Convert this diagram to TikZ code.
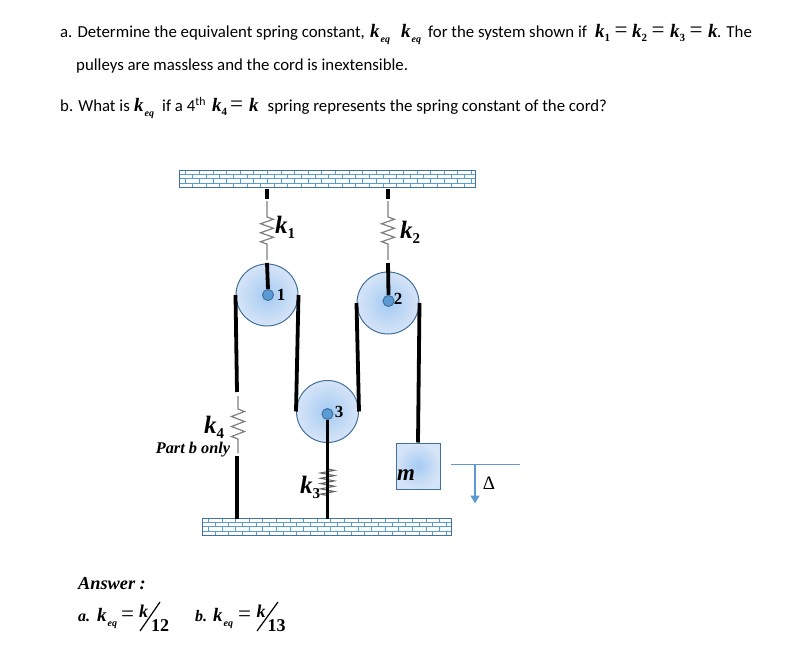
\documentclass[tikz,border=0pt]{standalone}
\usepackage{fontspec}
\setmainfont{Carlito}
\newfontfamily\serifbi[BoldItalicFont={Liberation Serif Bold Italic}]{Liberation Serif}
\usetikzlibrary{arrows.meta,decorations.pathmorphing}
\definecolor{brickblue}{RGB}{91,155,213}
\definecolor{rimblue}{RGB}{65,113,156}
\definecolor{paleblue}{RGB}{214,228,247}
\definecolor{midblue}{RGB}{165,203,243}
\newcommand{\bvar}[2]{{\serifbi\bfseries\itshape\fontsize{#1}{#1}\selectfont #2}}
\newcommand{\keq}{\bvar{19}{k}\kern1pt\raisebox{-5pt}{\bvar{10}{eq}}}
\newcommand{\kn}[1]{\bvar{19}{k}\raisebox{-4pt}{{\serifbi\bfseries\fontsize{11}{11}\selectfont #1}}}
\newcommand{\kbig}[1]{\bvar{25}{k}\raisebox{-5pt}{{\serifbi\bfseries\fontsize{15}{15}\selectfont #1}}}
\newcommand{\eqs}{{\serifbi\fontsize{23}{23}\selectfont =}}
\newcommand{\brickfill}[1]{
  \begin{scope}
    \clip (#1.north west) rectangle (#1.south east);
    \begin{scope}[shift={(#1.north west)},brickblue,line width=.8pt]
      \foreach \r in {1,2,3} \draw (0,\r*4.25)--(320,\r*4.25);
      \foreach \r in {0,2} \foreach \c in {0,...,24} {
        \draw (\c*13.6+6,\r*4.25)--(\c*13.6+6,\r*4.25+4.25);
        \draw (\c*13.6+12.8,\r*4.25+4.25)--(\c*13.6+12.8,\r*4.25+8.5);
      }
    \end{scope}
  \end{scope}
  \draw[rimblue,line width=1pt] (#1.north west) rectangle (#1.south east);
}
\tikzset{
  txt/.style={inner sep=0pt,anchor=base west,font=\fontsize{16.8}{18}\selectfont},
  lab/.style={inner sep=0pt,font=\serifbi\bfseries\fontsize{17}{17}\selectfont},
  plain/.style={inner sep=0pt},
  basew/.style={inner sep=0pt,anchor=base west},
  brickwall/.style={inner sep=0pt,minimum height=17pt},
  pulley/.style={circle,draw=rimblue,line width=1pt,inner sep=0pt,minimum size=62pt,shading=radial,inner color=midblue,outer color=paleblue},
  hub/.style={circle,draw=rimblue,line width=1pt,fill=brickblue,inner sep=0pt,minimum size=11pt},
  massbox/.style={draw=rimblue,line width=1pt,inner sep=0pt,minimum width=44pt,minimum height=46pt,shading=radial,inner color=midblue,outer color=paleblue},
  cord/.style={line width=3.8pt,black},
  coilone/.style={draw=black!50,line width=1.2pt,decorate,decoration={zigzag,amplitude=6.5pt,segment length=9pt,pre length=16pt,post length=15pt}},
  coilfour/.style={draw=black!50,line width=1.2pt,decorate,decoration={zigzag,amplitude=6.5pt,segment length=10pt,pre length=13pt,post length=13pt}},
  coilthree/.style={draw=black!60,line width=1.1pt,decorate,decoration={zigzag,amplitude=7pt,segment length=5.3pt,pre length=1pt,post length=1pt}},
  marker/.style={draw=brickblue,line width=1.2pt}
}
\begin{document}
\begin{tikzpicture}[x=1pt,y=-1pt]
\useasboundingbox (0,0) rectangle (798,661);
\node[txt](la1) at (60,37.5) {a. Determine the equivalent spring constant,};
\node[basew](la2) at (370,37.5) {\keq};
\node[basew](la3) at (401,37.5) {\keq};
\node[txt](la4) at (428,37.5) {for the system shown if};
\node[basew](la5) at (595,37.5) {\kn{1}};
\node[basew](la6) at (614.5,37.5) {\eqs};
\node[basew](la7) at (632,37.5) {\kn{2}};
\node[basew](la8) at (651.5,37.5) {\eqs};
\node[basew](la9) at (670,37.5) {\kn{3}};
\node[basew](la10) at (689.5,37.5) {\eqs};
\node[basew](la11) at (708,37.5) {\bvar{19}{k}};
\node[txt](la12) at (717,37.5) {. The};
\node[txt](lb) at (76,70.5) {pulleys are massless and the cord is inextensible.};
\node[txt](lc1) at (60,111.5) {b. What is};
\node[basew](lc2) at (134,111.5) {\keq};
\node[txt](lc3) at (162,111.5) {if a 4\textsuperscript{th}};
\node[basew](lc4) at (212,111.5) {\kn{4}};
\node[basew](lc5) at (230,111.5) {\eqs};
\node[basew](lc6) at (249,111.5) {\bvar{19}{k}};
\node[txt](lc7) at (267.5,111.5) {spring represents the spring constant of the cord?};
\node[brickwall,minimum width=295pt](top) at (327.5,179) {};
\node[brickwall,minimum width=249pt](bot) at (327,527) {};
\brickfill{top}
\brickfill{bot}
\node[pulley](p1) at (267,295) {};
\node[pulley](p2) at (388,303) {};
\node[pulley](p3) at (327.5,411.5) {};
\node[hub](h1) at (268,295) {};
\node[hub](h2) at (388.5,301) {};
\node[hub](h3) at (327.5,414) {};
\node[massbox](m) at (418,466) {};
\coordinate(k1a) at (267,189);
\coordinate(k1b) at (267,199);
\coordinate(k1c) at (267,201);
\coordinate(k1d) at (267,260);
\coordinate(k1e) at (267,263);
\coordinate(k2a) at (388,189);
\coordinate(k2b) at (388,199);
\coordinate(k2c) at (388,201);
\coordinate(k2d) at (388,260);
\coordinate(k2e) at (388,263);
\coordinate(k4a) at (237,392);
\coordinate(k4b) at (238,396);
\coordinate(k4c) at (238,453);
\coordinate(k4d) at (237,456);
\coordinate(k4e) at (237,518.5);
\coordinate(k3a) at (327.5,468);
\coordinate(k3b) at (327.5,497);
\coordinate(k3c) at (327.5,518.5);
\draw[cord](k1a)--(k1b);
\draw[coilone](k1c)--(k1d);
\draw[cord](k1e)--(h1.north);
\draw[cord](k2a)--(k2b);
\draw[coilone](k2c)--(k2d);
\draw[cord](k2e)--(h2.north);
\draw[cord](p1.west)--(k4a);
\draw[coilfour](k4b)--(k4c);
\draw[cord](k4d)--(k4e);
\draw[cord](p1.east)--(p3.west);
\draw[cord](p3.east)--(p2.west);
\draw[cord](p2.east)--(m.north);
\draw[coilthree](k3a)--(k3b);
\draw[line width=3pt](h3.south)--(k3c);
\node[lab](n1) at (281,295) {1};
\node[lab](n2) at (398,299) {2};
\node[lab](n3) at (339,412) {3};
\node[plain](lk1) at (285,227) {\kbig{1}};
\node[plain](lk2) at (410,232) {\kbig{2}};
\node[plain](lk4) at (214,427) {\kbig{4}};
\node[plain](lk3) at (310,487) {\kbig{3}};
\node[plain,anchor=base](lpb) at (193,453) {\bvar{16.3}{Part b only}};
\node[plain](lm) at (406,475) {\bvar{23}{m}};
\coordinate(dla) at (451,464.5);
\coordinate(dlb) at (520,464.5);
\coordinate(dlc) at (475,464.5);
\coordinate(dld) at (475,503.5);
\draw[marker](dla)--(dlb);
\draw[marker,line width=1.5pt,-{Triangle[length=8pt,width=9pt]}](dlc)--(dld);
\node[plain](ld) at (489,483) {{\serifbi\fontsize{19}{19}\selectfont Δ}};
\node[basew](ans) at (78,589) {\bvar{18.3}{Answer :}};
\node[basew](aa) at (78,621) {\bvar{16}{a.}};
\node[basew](ak) at (97,621) {\keq};
\node[basew](ae) at (121,621) {\eqs};
\node[basew](ab) at (195,621) {\bvar{16}{b.}};
\node[basew](bk) at (213,621) {\keq};
\node[basew](be) at (238,621) {\eqs};
\node[plain](ka) at (143.5,611) {\bvar{18}{k}};
\node[plain](kb) at (261,611) {\bvar{18}{k}};
\node[plain](na) at (160,626) {{\serifbi\bfseries\fontsize{18}{18}\selectfont 12}};
\node[plain](nb) at (276.5,626) {{\serifbi\bfseries\fontsize{18}{18}\selectfont 13}};
\coordinate(sa) at (160,602);
\coordinate(sb) at (140,631);
\coordinate(sc) at (278,602);
\coordinate(sd) at (257,631);
\draw[line width=1.2pt](sa)--(sb);
\draw[line width=1.2pt](sc)--(sd);
\end{tikzpicture}
\end{document}
